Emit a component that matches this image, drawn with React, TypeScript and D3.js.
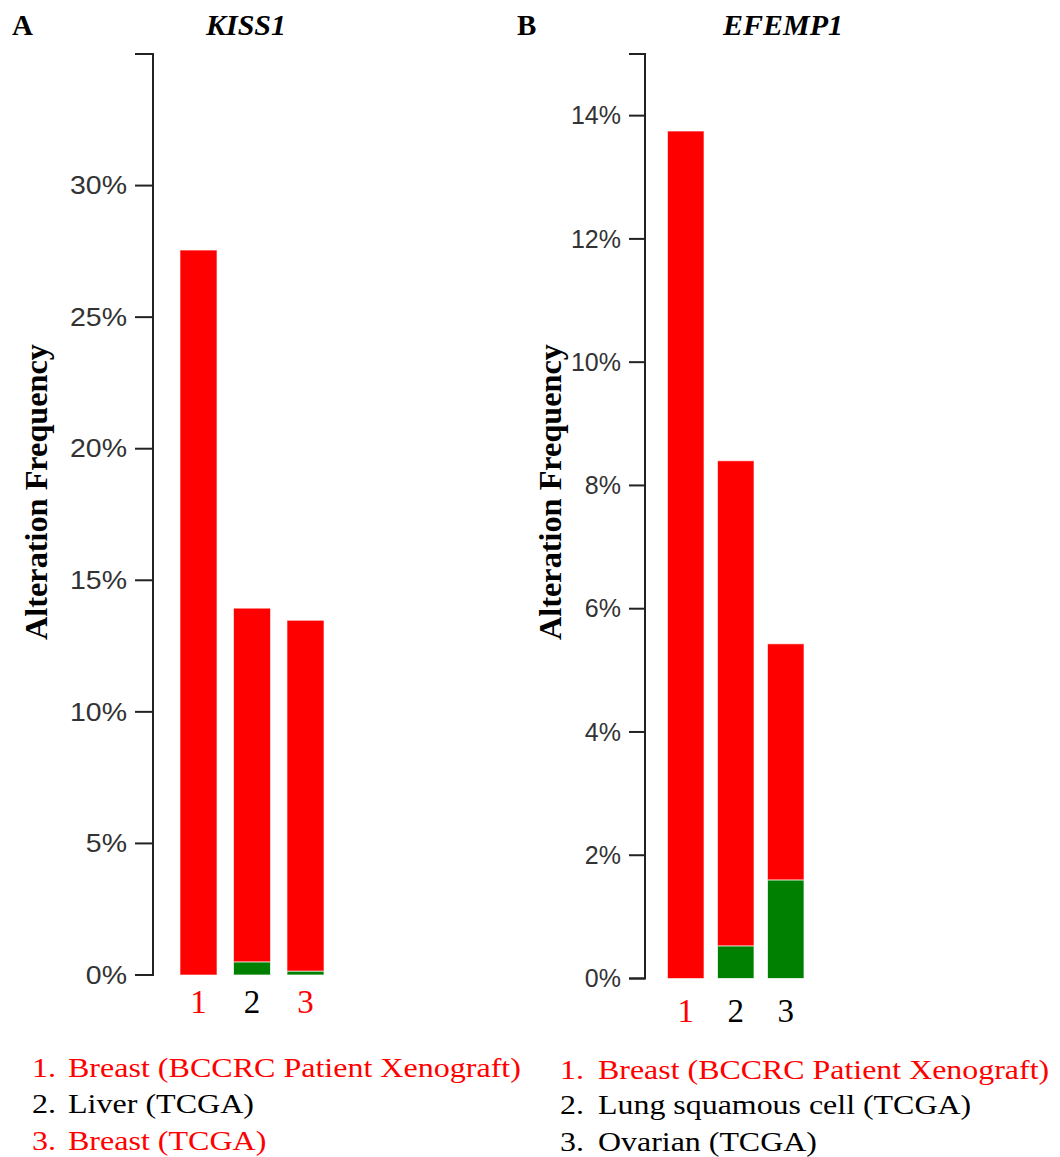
import React from "react";
import * as d3 from "d3";

// ---- Data ----
const kissCategories = ["1", "2", "3"];
const kissAmplification = [27.55, 13.44, 13.33];
const kissMutation = [0, 0.5, 0.15];
const kissTicks = [0, 5, 10, 15, 20, 25, 30];
const kissCategoryColors = ["#ff0000", "#000000", "#ff0000"];
const kissLegend = ["Breast (BCCRC Patient Xenograft)", "Liver (TCGA)", "Breast (TCGA)"];

const efempCategories = ["1", "2", "3"];
const efempAmplification = [13.75, 7.87, 3.83];
const efempMutation = [0, 0.53, 1.6];
const efempTicks = [0, 2, 4, 6, 8, 10, 12, 14];
const efempCategoryColors = ["#ff0000", "#000000", "#000000"];
const efempLegend = ["Breast (BCCRC Patient Xenograft)", "Lung squamous cell (TCGA)", "Ovarian (TCGA)"];

const RED = "#ff0000";
const GREEN = "#008000";
const SERIF = "'Liberation Serif', 'Times New Roman', serif";
const SANS = "'Liberation Sans', Arial, sans-serif";

type PanelProps = {
  letter: string;
  letterX: number;
  gene: string;
  geneX: number;
  categories: string[];
  amp: number[];
  mut: number[];
  ticks: number[];
  yMax: number;
  yBottom: number;
  axisX: number;
  tickSize: number;
  tickStretch: number;
  barLeft: number;
  step: number;
  barWidth: number;
  catColors: string[];
  catY: number;
  titleX: number;
  titleY: number;
  legend: string[];
  legendX: number;
  legendTextX: number;
  legendY: number[];
  legendStretch: number;
};

function Panel(p: PanelProps) {
  const yTop = 54;
  const y = d3.scaleLinear().domain([0, p.yMax]).range([p.yBottom, yTop]);
  const inner = 1 - p.barWidth / p.step;
  const x = d3
    .scaleBand<string>()
    .domain(p.categories)
    .range([p.barLeft - (p.step * inner) / 2, p.barLeft - (p.step * inner) / 2 + p.step * p.categories.length])
    .paddingInner(inner)
    .paddingOuter(inner / 2);
  const bw = x.bandwidth();

  return (
    <g>
      <text x={p.letterX} y={35} fontFamily={SERIF} fontWeight="bold" fontSize={29} fill="#000">
        {p.letter}
      </text>
      <text x={p.geneX} y={35} fontFamily={SERIF} fontWeight="bold" fontStyle="italic" fontSize={30} fill="#000" textAnchor="middle">
        {p.gene}
      </text>
      {/* axis */}
      <path
        d={`M${p.axisX - p.tickSize},${y(p.yMax)}H${p.axisX}V${y(0)}H${p.axisX - p.tickSize}`}
        fill="none"
        stroke="#222"
        strokeWidth={2}
      />
      {p.ticks.map((t) => (
        <g key={t}>
          <line x1={p.axisX - p.tickSize} x2={p.axisX} y1={y(t)} y2={y(t)} stroke="#222" strokeWidth={2} />
          <text
            transform={`translate(${p.axisX - p.tickSize - 8},${y(t)}) scale(${p.tickStretch},1)`}
            dy="0.35em"
            textAnchor="end"
            fontFamily={SANS}
            fontSize={25}
            fill="#333"
          >
            {t}%
          </text>
        </g>
      ))}
      <text
        transform={`translate(${p.titleX},${p.titleY}) rotate(-90)`}
        textAnchor="middle"
        fontFamily={SERIF}
        fontWeight="bold"
        fontSize={32}
        textLength={296}
        lengthAdjust="spacingAndGlyphs"
        fill="#000"
      >
        Alteration Frequency
      </text>
      {/* bars */}
      {p.categories.map((c, i) => {
        const g = p.mut[i];
        const r = p.amp[i];
        const bx = x(c) as number;
        return (
          <g key={c}>
            {g > 0 && (
              <rect x={bx} y={y(g)} width={bw} height={y(0) - y(g)} fill={GREEN} stroke="#fff" strokeOpacity={0.7} strokeWidth={1} />
            )}
            <rect x={bx} y={y(g + r)} width={bw} height={y(g) - y(g + r)} fill={RED} stroke="#fff" strokeOpacity={0.6} strokeWidth={1} />
            <text
              x={bx + bw / 2}
              y={p.catY}
              textAnchor="middle"
              fontFamily={SERIF}
              fontSize={33}
              fill={p.catColors[i]}
            >
              {c}
            </text>
          </g>
        );
      })}
      {/* legend */}
      {p.legend.map((l, i) => (
        <g key={l} fill={p.catColors[i]} fontFamily={SERIF} fontSize={28}>
          <text transform={`translate(${p.legendX},${p.legendY[i]}) scale(${p.legendStretch},1)`}>{`${i + 1}.`}</text>
          <text transform={`translate(${p.legendTextX},${p.legendY[i]}) scale(${p.legendStretch},1)`}>{l}</text>
        </g>
      ))}
    </g>
  );
}

export default function App() {
  return (
    <svg
      width={1060}
      height={1157}
      viewBox="0 0 1060 1157"
      style={{ position: "absolute", left: 0, top: 0, background: "#fff" }}
    >
      <rect width={1060} height={1157} fill="#fff" />
      <Panel
        letter="A"
        letterX={12}
        gene="KISS1"
        geneX={246}
        categories={kissCategories}
        amp={kissAmplification}
        mut={kissMutation}
        ticks={kissTicks}
        yMax={35}
        yBottom={975}
        axisX={153}
        tickSize={18}
        tickStretch={1.14}
        barLeft={180}
        step={53.5}
        barWidth={37}
        catColors={kissCategoryColors}
        catY={1013}
        titleX={47}
        titleY={492}
        legend={kissLegend}
        legendX={32}
        legendTextX={68}
        legendY={[1077, 1113, 1150]}
        legendStretch={1.145}
      />
      <Panel
        letter="B"
        letterX={517}
        gene="EFEMP1"
        geneX={783}
        categories={efempCategories}
        amp={efempAmplification}
        mut={efempMutation}
        ticks={efempTicks}
        yMax={15}
        yBottom={978.5}
        axisX={645}
        tickSize={16}
        tickStretch={1.0}
        barLeft={667.5}
        step={50}
        barWidth={36.5}
        catColors={efempCategoryColors}
        catY={1022}
        titleX={561}
        titleY={492}
        legend={efempLegend}
        legendX={560}
        legendTextX={598}
        legendY={[1079, 1114, 1151]}
        legendStretch={1.14}
      />
    </svg>
  );
}
